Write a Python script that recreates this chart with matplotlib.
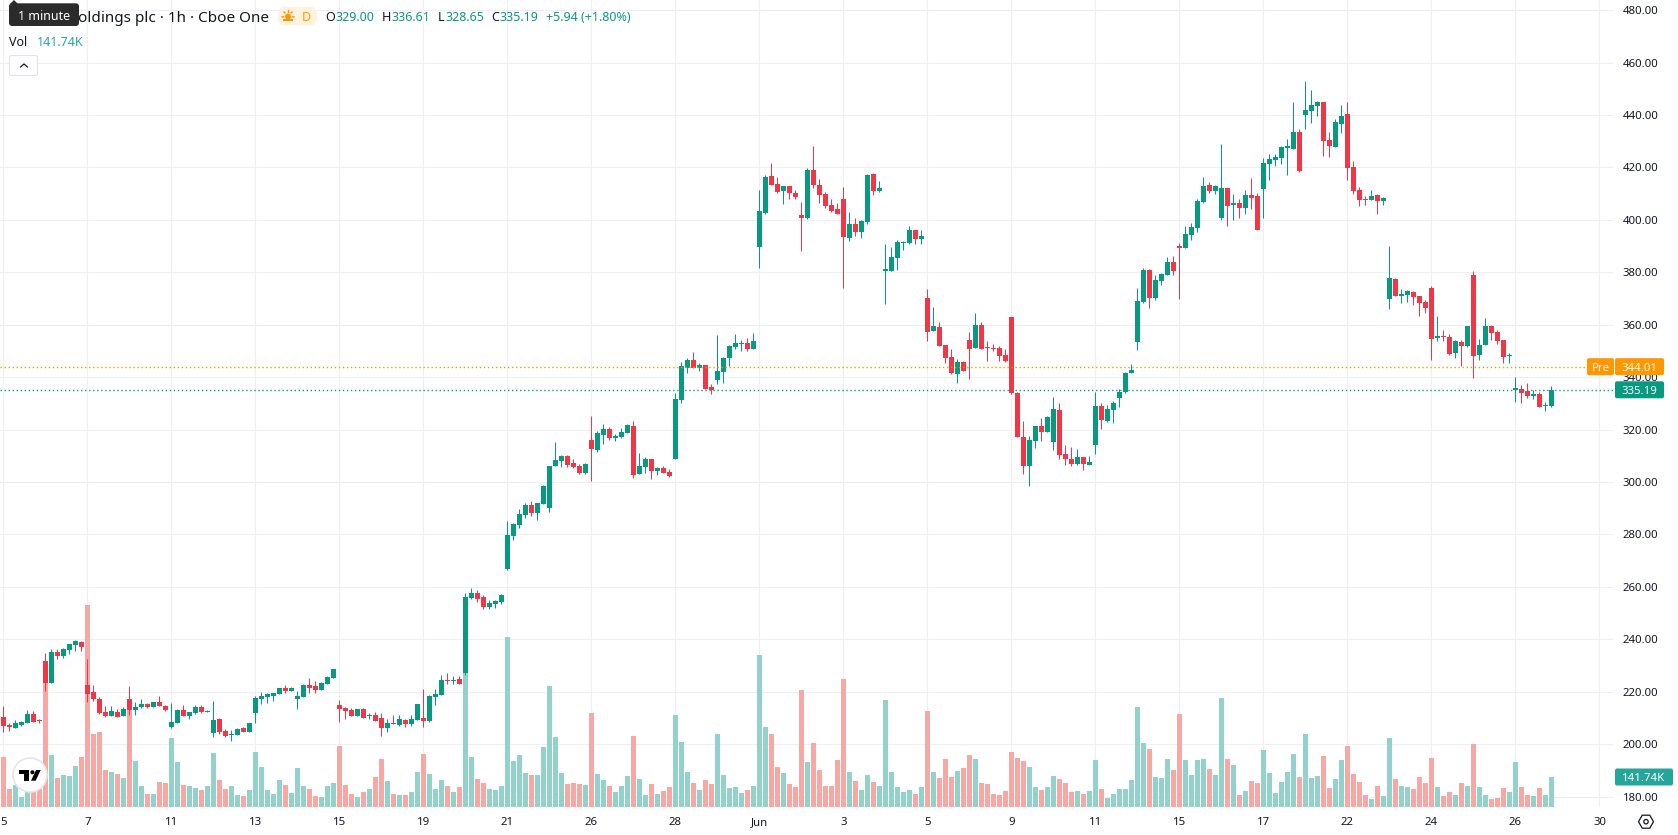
import matplotlib
matplotlib.use('Agg')
import matplotlib.pyplot as plt
from matplotlib.patches import Circle, FancyBboxPatch, Polygon, Rectangle, RegularPolygon

plt.rcParams['font.family'] = ['Noto Sans', 'DejaVu Sans']

# Hourly candles, one value per bar
opens = [
    210.4,207.3,206.2,207.3,208.1,211.5,209.1,231.8,223.4,235.2,
    233.5,235.9,237.9,239.0,222.6,219.9,217.3,212.3,210.8,212.3,
    210.8,217.3,213.1,214.2,215.4,214.2,216.1,214.6,206.6,208.1,
    213.1,210.8,211.9,214.2,212.4,204.3,209.6,204.9,203.6,203.5,
    206.2,204.7,211.9,217.3,218.0,218.4,219.2,221.5,220.3,217.3,
    218.0,222.6,222.2,220.7,223.0,225.3,215.0,213.8,213.1,210.8,
    213.4,210.9,211.2,210.0,206.2,208.1,207.3,209.3,207.7,209.3,
    210.0,208.9,218.0,218.8,224.5,224.2,224.9,227.2,255.8,257.7,
    256.2,252.3,253.5,254.3,266.8,279.4,283.6,287.4,291.2,288.2,
    291.6,290.1,306.1,308.0,309.9,307.3,306.1,303.4,316.0,312.2,
    317.9,320.2,316.8,317.2,318.7,321.4,303.1,305.7,308.8,304.2,
    305.4,303.8,308.8,331.3,343.5,346.5,343.5,344.6,336.2,338.9,
    342.0,347.3,351.5,352.8,353.0,350.7,389.7,402.6,416.7,413.7,
    411.0,412.9,410.3,401.9,400.7,419.0,413.3,409.9,405.7,404.1,
    408.0,393.1,398.4,395.4,399.2,417.5,411.0,380.5,380.5,385.5,
    391.3,391.2,396.1,392.7,370.2,357.6,359.1,352.3,347.7,341.2,
    345.8,354.2,351.1,359.9,351.5,351.0,351.1,348.5,363.0,334.0,
    317.2,306.1,315.7,321.4,319.1,315.3,327.5,310.7,308.8,306.9,
    309.6,306.5,314.1,329.0,323.3,327.5,332.1,334.3,341.6,353.4,
    368.7,380.9,370.2,376.7,379.0,383.9,390.0,389.3,394.2,396.9,
    406.8,413.3,411.0,400.7,412.1,405.7,406.4,404.5,409.5,409.1,
    411.8,421.3,422.8,423.6,427.4,427.0,433.5,440.0,441.5,443.4,
    445.0,430.5,427.8,436.6,440.4,420.2,411.4,408.0,407.6,409.5,
    407.2,369.8,377.4,371.0,371.3,372.5,371.0,368.7,374.0,355.0,
    355.8,355.3,349.2,353.4,351.9,379.0,348.5,352.3,359.5,357.2,
    354.2,348.2,335.1,335.5,334.7,332.8,333.6,329.0,329.00,
]
highs = [
    214.6,208.0,209.1,209.0,213.1,212.7,209.6,234.8,236.3,236.3,
    236.6,238.2,239.8,239.4,232.5,222.6,218.0,214.6,214.6,213.4,
    214.2,222.2,216.1,217.3,215.7,216.1,218.4,215.0,215.7,213.4,
    215.0,212.3,215.0,215.0,213.1,216.5,210.0,205.8,205.4,206.2,
    206.6,208.1,218.4,219.9,219.5,219.5,221.5,222.6,221.8,220.3,
    223.0,225.3,224.1,223.7,226.0,228.7,216.9,214.2,213.8,213.4,
    213.8,211.9,212.3,211.9,209.6,211.2,211.2,209.6,211.2,215.4,
    221.1,218.8,221.1,226.4,227.2,226.0,226.0,257.7,259.6,258.8,
    256.9,255.0,255.0,257.3,285.1,284.4,289.7,292.0,292.8,292.0,
    298.9,306.1,315.3,310.3,310.3,308.8,306.9,307.3,325.2,319.5,
    322.1,321.0,318.3,320.6,322.1,323.3,311.1,309.6,308.8,305.7,
    306.1,305.0,334.0,345.8,347.3,349.6,345.4,344.6,337.4,356.1,
    347.7,352.3,356.5,354.2,354.9,356.8,411.4,417.1,421.7,416.3,
    412.9,412.9,411.4,406.8,419.8,428.2,415.6,410.6,408.0,406.4,
    412.5,403.0,400.7,400.0,417.5,417.9,414.8,390.8,389.7,392.3,
    391.8,397.7,396.1,396.1,373.6,366.8,361.0,352.3,350.8,346.9,
    346.2,357.2,364.5,361.0,353.8,352.7,351.9,350.8,363.0,334.3,
    323.3,317.6,321.4,324.4,325.2,332.4,330.2,314.1,313.4,312.6,
    309.6,309.9,334.3,330.2,329.4,330.9,335.5,342.0,345.0,374.0,
    381.6,381.3,379.0,379.7,385.8,386.2,391.2,397.7,398.8,408.0,
    416.3,414.4,413.3,428.9,412.1,409.9,408.0,411.4,416.0,410.2,
    423.6,425.1,425.1,428.2,430.8,445.0,434.7,453.0,449.5,445.3,
    445.0,433.5,438.5,443.8,445.0,422.4,412.5,409.1,411.4,409.9,
    408.7,390.0,377.7,373.6,373.3,372.9,371.0,369.4,374.8,363.3,
    358.0,356.5,354.2,354.2,359.5,380.5,354.6,362.6,359.9,358.0,
    354.2,349.2,340.1,337.0,337.8,335.1,334.3,330.5,336.61,
]
lows = [
    204.7,205.0,206.2,207.1,208.1,208.4,208.1,220.3,223.4,232.6,
    233.0,234.4,235.7,235.6,216.1,216.5,211.7,210.4,210.8,210.4,
    210.8,211.2,211.2,213.8,213.9,214.2,214.6,212.7,206.2,208.1,
    210.8,209.6,211.5,211.9,212.3,202.8,203.9,202.8,201.2,203.5,
    204.7,204.7,208.1,215.4,215.7,216.5,219.2,219.5,220.3,213.4,
    218.0,219.5,219.5,220.7,223.0,225.3,208.5,209.6,210.8,210.8,
    210.0,209.6,208.9,203.1,204.7,207.7,207.0,206.6,207.0,209.3,
    206.6,208.5,215.0,218.8,223.0,223.0,223.0,226.4,255.4,254.3,
    251.6,251.6,252.0,253.5,266.5,277.9,282.5,286.3,287.0,285.5,
    291.6,288.6,306.1,305.7,305.7,305.4,303.1,303.1,300.4,311.5,
    314.5,316.0,315.6,316.8,318.7,301.5,303.1,303.4,301.2,302.7,
    303.4,301.9,308.8,330.1,341.6,343.5,342.4,335.5,333.6,337.4,
    337.8,344.3,350.7,350.0,350.0,350.7,381.6,402.2,413.3,410.3,
    406.1,408.0,408.0,388.1,400.3,412.2,406.4,404.5,403.0,402.2,
    374.0,391.9,393.9,393.1,398.4,409.5,410.6,367.9,380.5,380.9,
    388.5,390.8,390.8,390.8,353.8,357.6,351.9,345.4,341.2,337.8,
    342.4,339.3,351.1,350.8,346.2,350.0,346.2,345.8,333.6,317.2,
    303.1,298.5,313.0,315.7,319.1,312.2,308.8,306.5,306.1,306.5,
    304.6,306.5,310.7,320.2,322.9,322.5,328.6,334.0,341.6,350.4,
    368.3,366.4,369.4,375.2,379.0,379.0,369.8,389.3,392.3,395.4,
    406.4,410.2,409.9,399.9,397.7,399.9,400.7,402.2,404.1,396.1,
    400.7,415.2,420.5,421.3,417.1,427.0,418.2,434.7,436.9,439.6,
    424.4,424.0,427.8,433.1,415.2,409.9,405.3,405.7,407.6,402.2,
    405.7,366.0,371.0,368.3,368.7,367.5,363.3,364.5,346.5,353.8,
    353.8,348.5,347.3,344.3,351.5,339.7,346.5,352.3,354.2,352.7,
    345.4,345.4,330.5,330.1,332.0,331.7,328.6,327.1,328.65,
]
closes = [
    207.0,206.6,208.1,208.5,211.5,208.5,208.9,223.4,235.2,233.5,
    236.3,238.2,239.4,237.1,219.2,217.3,211.9,210.6,212.7,210.4,
    213.4,213.1,214.2,215.4,214.2,216.1,214.6,213.1,208.5,213.1,
    210.8,212.3,214.2,212.3,212.7,209.3,204.7,203.1,203.9,205.8,
    204.7,208.1,217.6,218.4,219.2,219.5,221.5,220.3,221.5,218.4,
    222.6,221.5,220.7,223.4,225.6,228.7,213.4,212.7,210.8,213.4,
    210.0,211.2,208.9,206.2,208.1,207.7,209.6,207.7,209.6,215.4,
    208.9,218.4,219.2,224.5,224.1,224.5,223.0,256.2,257.7,255.4,
    252.3,253.9,254.6,256.9,279.8,284.0,287.8,291.2,288.2,292.0,
    298.5,306.1,308.4,309.9,306.5,305.7,303.4,306.9,312.6,318.7,
    320.2,316.8,317.6,319.1,321.8,302.7,306.1,308.8,304.2,305.4,
    303.4,302.3,331.7,344.3,346.5,343.5,344.6,335.5,335.2,342.4,
    347.3,351.9,353.0,353.0,350.7,353.8,403.4,416.3,413.3,410.6,
    412.9,410.3,408.7,400.7,419.0,413.3,409.5,405.3,403.4,402.2,
    393.5,398.4,395.4,399.6,417.1,411.0,412.2,381.3,385.8,391.6,
    391.6,396.1,392.7,393.9,357.2,359.5,351.9,347.3,341.6,345.8,
    342.4,350.8,359.9,350.8,351.1,350.6,348.1,346.2,334.0,317.2,
    306.1,316.0,321.4,319.1,324.8,327.9,310.3,308.8,306.9,309.6,
    306.9,307.6,329.0,323.7,327.9,330.2,334.3,341.6,342.7,369.1,
    380.9,370.2,377.1,379.3,383.9,380.5,389.3,394.6,397.3,407.2,
    412.9,411.0,412.9,412.1,405.3,406.4,404.5,409.5,408.3,396.1,
    421.7,423.2,424.0,427.8,428.2,433.5,418.6,441.9,443.8,445.0,
    430.1,428.2,437.3,439.6,419.8,411.0,407.6,407.7,409.1,407.2,
    408.3,377.8,371.0,371.7,372.9,370.6,368.3,366.4,354.6,355.7,
    355.5,348.8,353.8,351.9,359.5,348.1,352.3,359.5,356.8,353.8,
    347.7,348.6,335.9,334.0,332.8,333.6,328.6,329.4,335.19,
]
# Volume in thousands of shares
volumes = [
    236.3,85.1,104.0,47.3,78.8,78.8,86.6,630.0,245.7,137.0,
    151.2,146.5,193.7,236.3,954.5,344.9,354.4,174.8,165.4,155.9,
    137.0,464.6,217.4,99.2,61.4,61.4,118.1,113.4,326.0,212.6,
    104.0,99.2,89.8,80.3,99.2,255.2,127.6,85.1,99.2,56.7,
    52.0,80.3,259.9,189.0,80.3,61.4,127.6,104.0,66.2,184.3,
    99.2,85.1,52.0,47.3,99.2,113.4,288.2,104.0,61.4,47.3,
    70.9,85.1,141.7,226.8,122.9,61.4,56.7,56.7,70.9,165.4,
    250.4,155.9,85.1,127.6,99.2,70.9,94.5,645.8,236.3,132.3,
    113.4,85.1,80.3,99.2,803.3,217.4,245.7,160.7,151.2,151.2,
    283.5,571.7,330.8,160.7,108.7,113.4,108.7,104.0,444.2,155.9,
    127.6,99.2,70.9,99.2,146.5,335.5,132.3,56.7,108.7,61.4,
    75.6,94.5,434.7,307.1,165.4,113.4,80.3,127.6,108.7,344.9,
    151.2,89.8,94.5,66.2,80.3,99.2,718.2,378.0,344.9,189.0,
    160.7,108.7,94.5,552.8,212.6,302.4,174.8,99.2,99.2,222.1,
    606.4,165.4,122.9,80.3,151.2,118.1,99.2,505.6,165.4,94.5,
    70.9,80.3,61.4,94.5,453.6,165.4,137.0,226.8,141.7,170.1,
    184.3,245.7,226.8,113.4,108.7,61.4,56.7,75.6,259.9,231.5,
    217.4,189.0,94.5,80.3,94.5,146.5,132.3,113.4,70.9,75.6,
    61.4,75.6,222.1,85.1,42.5,61.4,85.1,85.1,127.6,472.5,
    302.4,274.1,141.7,137.0,226.8,174.8,439.4,222.1,151.2,222.1,
    226.8,179.6,151.2,515.0,226.8,198.5,56.7,75.6,122.9,113.4,
    269.3,160.7,66.2,118.1,165.4,250.4,141.7,344.9,137.0,146.5,
    241.0,89.8,132.3,222.1,288.2,155.9,118.1,56.7,37.8,99.2,
    52.0,326.0,132.3,99.2,94.5,85.1,141.7,113.4,231.5,94.5,
    52.0,70.9,56.7,113.4,99.2,297.7,94.5,56.7,37.8,42.5,
    89.8,70.9,212.6,94.5,56.7,52.0,89.8,56.7,141.74,
]

x_labels = ['5', '7', '11', '13', '15', '19', '21', '26', '28', 'Jun',
            '3', '5', '9', '11', '15', '17', '22', '24', '26', '30']
bars_per_label = 14
price_levels = [180, 200, 220, 240, 260, 280, 300, 320, 340, 360, 380, 400, 420, 440, 460, 480]
pre_price = 344.01
last_price = 335.19

GREEN = '#089981'
RED = '#F23645'
VOL_GREEN = '#93D2CA'
VOL_RED = '#F7A8A5'
ORANGE = '#FF9800'
TEXT = '#131722'
GRID = '#EFEFF0'
TOOLTIP = '#2B2B2B'

W, H = 1678, 835
PANE_W, PANE_H = 1613, 807
FONT_TICK = 8.2

fig = plt.figure(figsize=(W / 100, H / 100), dpi=100, facecolor='white')
rect = [0, (H - PANE_H) / H, PANE_W / W, PANE_H / H]

xs = list(range(len(closes)))
tick_pos = [i * bars_per_label for i in range(len(x_labels))]
xlim = (-0.583, 268.25)
ylim = (176.07, 483.85)

# three stacked axes so the order is grid, then volume, then candles
ax_grid = fig.add_axes(rect, zorder=0)
ax_grid.set_xlim(xlim)
ax_grid.set_ylim(ylim)
ax_grid.set_xticks(tick_pos)
ax_grid.set_yticks(price_levels)
ax_grid.grid(True, color=GRID, lw=0.8)
ax_grid.tick_params(length=0, labelbottom=False, labelleft=False)
ax_grid.set_axisbelow(True)
for s in ax_grid.spines.values():
    s.set_visible(False)

ax_vol = fig.add_axes(rect, zorder=1)
ax_vol.patch.set_visible(False)
ax_vol.set_xlim(xlim)
ax_vol.set_ylim(0, PANE_H * 4.725)
ax_vol.axis('off')

ax = fig.add_axes(rect, zorder=2)
ax.patch.set_visible(False)
ax.set_xlim(xlim)
ax.set_ylim(ylim)
for s in ax.spines.values():
    s.set_visible(False)

up = [c >= o for o, c in zip(opens, closes)]
colors = [GREEN if u else RED for u in up]
vol_colors = [VOL_GREEN if u else VOL_RED for u in up]

ax_vol.bar(xs, volumes, width=0.83, color=vol_colors, linewidth=0)

ax.vlines(xs, lows, highs, colors=colors, lw=0.72, zorder=2)
bottoms = [min(o, c) for o, c in zip(opens, closes)]
heights = [max(abs(c - o), 0.35) for o, c in zip(opens, closes)]
ax.bar(xs, heights, bottom=bottoms, width=0.83, color=colors, linewidth=0, zorder=3)

ax.axhline(pre_price, color=ORANGE, lw=1.0, ls=(0, (1, 1.9)), zorder=4)
ax.axhline(last_price, color=GREEN, lw=1.0, ls=(0, (1, 1.9)), zorder=4)

ax.yaxis.tick_right()
ax.set_yticks(price_levels)
ax.set_yticklabels(['%.2f' % p for p in price_levels], fontsize=FONT_TICK, color=TEXT)
ax.set_xticks(tick_pos)
ax.set_xticklabels(x_labels, fontsize=FONT_TICK, color=TEXT)
ax.tick_params(axis='y', length=0, pad=7)
ax.tick_params(axis='x', length=0, pad=7.5)
for lab in ax.get_yticklabels():
    lab.set_verticalalignment('center_baseline')
    if lab.get_text() == '200.00':
        lab.set_fontweight('bold')
for lab in ax.get_xticklabels():
    if lab.get_text() == 'Jun':
        lab.set_fontweight('bold')

# pixel-space layer for the legend, tags and logo
ui = fig.add_axes([0, 0, 1, 1], zorder=5)
ui.set_xlim(0, W)
ui.set_ylim(H, 0)
ui.axis('off')


def px_y(axis, value):
    return H - axis.transData.transform((0, value))[1]


def tag(x0, x1, yc, color, label, h=17):
    ui.add_patch(FancyBboxPatch((x0, yc - h / 2), x1 - x0, h, boxstyle='round,pad=0,rounding_size=2',
                                fc=color, ec='none'))
    ui.text((x0 + x1) / 2, yc, label, color='white', fontsize=FONT_TICK, ha='center', va='center_baseline')


y_pre = px_y(ax, pre_price)
tag(1587, 1614, y_pre, ORANGE, 'Pre')
tag(1615, 1664, y_pre, ORANGE, '%.2f' % pre_price)
tag(1615, 1664, px_y(ax, last_price), GREEN, '%.2f' % last_price)
tag(1615, 1673, px_y(ax_vol, volumes[-1]), '#26A69A', '141.74K')

# legend row
row1 = 16
ui.text(78, row1, 'oldings plc · 1h · Cboe One', fontsize=11, color=TEXT, va='center_baseline')
ui.add_patch(FancyBboxPatch((278, 6.7), 39, 18.5, boxstyle='round,pad=0,rounding_size=7', fc='#FFF3E0', ec='none'))
ui.text(306, row1, 'D', fontsize=9, color=ORANGE, ha='center', va='center_baseline')
ui.add_patch(Circle((288, row1 + 0.5), 3.0, fc=ORANGE, ec='none'))
for dx, dy in [(-6, 1), (6, 1), (-4, -4), (4, -4), (0, -6)]:
    ui.plot([288 + dx * 0.75, 288 + dx], [row1 + dy * 0.75, row1 + dy], color=ORANGE, lw=1)
ui.add_patch(Rectangle((283, row1 + 3), 10, 1.6, fc=ORANGE, ec='none'))

ohlc = [(325, 'O', 336, '329.00'), (382, 'H', 391.5, '336.61'),
        (438, 'L', 445.5, '328.65'), (491.5, 'C', 500, '335.19')]
for lx, name, vx, val in ohlc:
    ui.text(lx, row1, name, fontsize=9, color=TEXT, va='center_baseline')
    ui.text(vx, row1, val, fontsize=9, color=GREEN, va='center_baseline')
ui.text(546, row1, '+5.94 (+1.80%)', fontsize=9, color=GREEN, va='center_baseline')

ui.text(9, 40.7, 'Vol', fontsize=9, color=TEXT, va='center_baseline')
ui.text(36.6, 40.7, '141.74K', fontsize=9, color='#26A69A', va='center_baseline')

ui.add_patch(FancyBboxPatch((9.5, 55.5), 28, 20, boxstyle='round,pad=0,rounding_size=2', fc='white', ec='#E0E3EB', lw=0.8))
ui.plot([20.5, 24, 27.5], [67, 64, 67], color=TEXT, lw=0.9)

# tooltip over the start of the title
ui.add_patch(Polygon([(10, 4), (14, 0), (18, 4)], fc=TOOLTIP, ec='none'))
ui.add_patch(FancyBboxPatch((9, 3.3), 70, 22.7, boxstyle='round,pad=0,rounding_size=3', fc=TOOLTIP, ec='none'))
ui.text(44, 15.5, '1 minute', fontsize=9, color='white', ha='center', va='center_baseline')

# logo badge
ui.add_patch(Circle((30, 775), 17, fc='white', ec='#E6E6E6', lw=1.2))
ui.add_patch(Rectangle((19, 770.3), 10.3, 3.4, fc='black', ec='none'))
ui.add_patch(Rectangle((24, 773.5), 5.3, 7, fc='black', ec='none'))
ui.add_patch(Circle((32.4, 772.3), 2, fc='black', ec='none'))
ui.add_patch(Polygon([(36, 770), (40.7, 770), (35.7, 780.7), (31, 780.7)], fc='black', ec='none'))

# settings button under the price scale
ui.add_patch(RegularPolygon((1646, 821.7), 6, radius=7.5, orientation=0.5236, fc='white', ec=TEXT, lw=0.9))
ui.add_patch(Circle((1646, 821.7), 2.2, fc='white', ec=TEXT, lw=0.9))

fig.savefig('out.png', dpi=100)
